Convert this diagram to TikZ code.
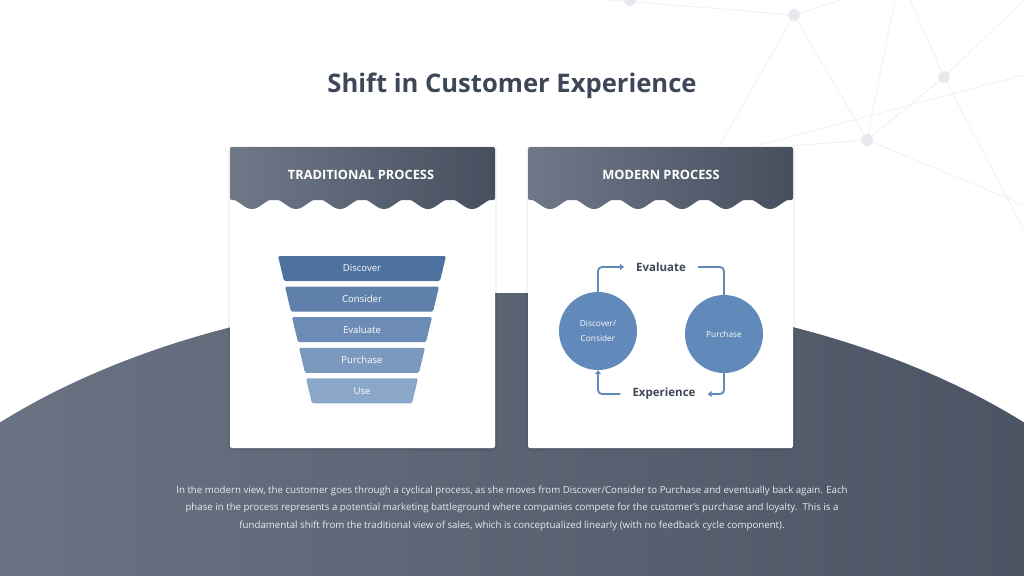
\documentclass[tikz,border=0pt]{standalone}
\usepackage{fontspec}
\setmainfont{Open Sans}
\usetikzlibrary{arrows.meta, positioning}
\definecolor{slate}{HTML}{454F5E}
\definecolor{slatelt}{HTML}{6E7888}
\definecolor{title}{HTML}{3E4757}
\definecolor{cblue}{HTML}{6189BA}
\definecolor{netgray}{HTML}{E6E9EE}
\tikzset{
  card/.style={fill=white, rounded corners=2pt},
  head/.style={font=\bfseries\fontsize{12.8}{15}\selectfont, text=white},
  stage/.style={font=\fontsize{9.6}{11}\selectfont, text=white},
  cyc/.style={circle, fill=cblue, minimum size=78pt, inner sep=0pt, align=center,
    font=\fontsize{8.3}{15}\selectfont, text=white},
  lbl/.style={font=\bfseries\fontsize{11.5}{13}\selectfont, text=title, inner xsep=12pt},
  flow/.style={draw=cblue, line width=1.8pt, rounded corners=4pt, -{Triangle[length=4pt,width=6pt]}},
  net/.style={draw=netgray, line width=0.5pt}
}
\begin{document}
\begin{tikzpicture}[x=1pt, y=-1pt]
\useasboundingbox (0,0) rectangle (1024,575);
% network in the corner
\coordinate (n1) at (630,0); \coordinate (n2) at (794,15);
\coordinate (n3) at (944,77); \coordinate (n4) at (867,140);
\draw[net] (550,-5) -- (n2) -- (n4) -- (n3) -- (1024,0);
\draw[net] (n2) -- (720,145); \draw[net] (n4) -- (1024,205);
\draw[net] (n3) -- (1024,230); \draw[net] (n4) -- (760,148);
\draw[net] (n4) -- (895,0); \draw[net] (n3) -- (910,0);
\draw[net] (n2) -- (840,0); \draw[net] (740,150) -- (1024,75);
\foreach \n in {n1,n2,n3,n4} \fill[netgray] (\n) circle (6);
% dark arc
\shade[left color=slatelt, right color=slate] (512,700) ellipse (700 and 407);
% title
\node[font=\bfseries\fontsize{25.6}{30}\selectfont, text=title] (ttl) at (512,86) {Shift in Customer Experience};
% cards
\foreach \x in {230, 528} {
  \fill[black, opacity=0.05, rounded corners=4pt] (\x-2,146) rectangle (\x+267,451);
  \fill[card] (\x,147) rectangle (\x+265,448);
  \shade[left color=slatelt, right color=slate, rounded corners=2pt]
    (\x,200) -- (\x,147) -- (\x+265,147) -- (\x+265,200) -- cycle;
  \shade[left color=slatelt, right color=slate, samples=160, variable=\t]
    (\x,199) -- plot[domain=0:265] ({\x+\t}, {204-5*cos(\t/44*360)}) -- (\x+265,199) -- cycle;
}
\node[head] (tradhead) at (361,175) {TRADITIONAL PROCESS};
\node[head] (modhead) at (661,175) {MODERN PROCESS};
% funnel
\foreach \i/\txt/\c in {0/Discover/4D72A0, 1/Consider/5E80AB, 2/Evaluate/6D8CB5, 3/Purchase/7B98BF, 4/Use/8AA6C9} {
  \definecolor{fc}{HTML}{\c}
  \fill[fc, rounded corners=1.5pt] (278+7*\i,256+30.6*\i) -- (446-7*\i,256+30.6*\i)
    -- (440-7*\i,281+30.6*\i) -- (284+7*\i,281+30.6*\i) -- cycle;
  \node[stage] (f\i) at (362,268.5+30.6*\i) {\txt};
}
% cycle
\node[cyc] (disc) at (598,331) {Discover/\\Consider};
\node[cyc] (purch) at (724,334) {Purchase};
\node[lbl] (eval) at (661,267) {Evaluate};
\node[lbl] (exper) at (664,394) {Experience};
\draw[flow] (disc.north) |- (eval.west);
\draw[flow] (eval.east) -| ([yshift=-4pt]purch.north);
\draw[flow] ([yshift=4pt]purch.south) |- (exper.east);
\draw[flow] (exper.west) -| (disc.south);
% caption
\node[font=\fontsize{9.7}{17.5}\selectfont, text=white!88!slate, align=center] (cap) at (512,508)
  {In the modern view, the customer goes through a cyclical process, as she moves from Discover/Consider to Purchase and eventually back again. Each\\
   phase in the process represents a potential marketing battleground where companies compete for the customer's purchase and loyalty.\ \ This is a\\
   fundamental shift from the traditional view of sales, which is conceptualized linearly (with no feedback cycle component).};
\end{tikzpicture}
\end{document}
